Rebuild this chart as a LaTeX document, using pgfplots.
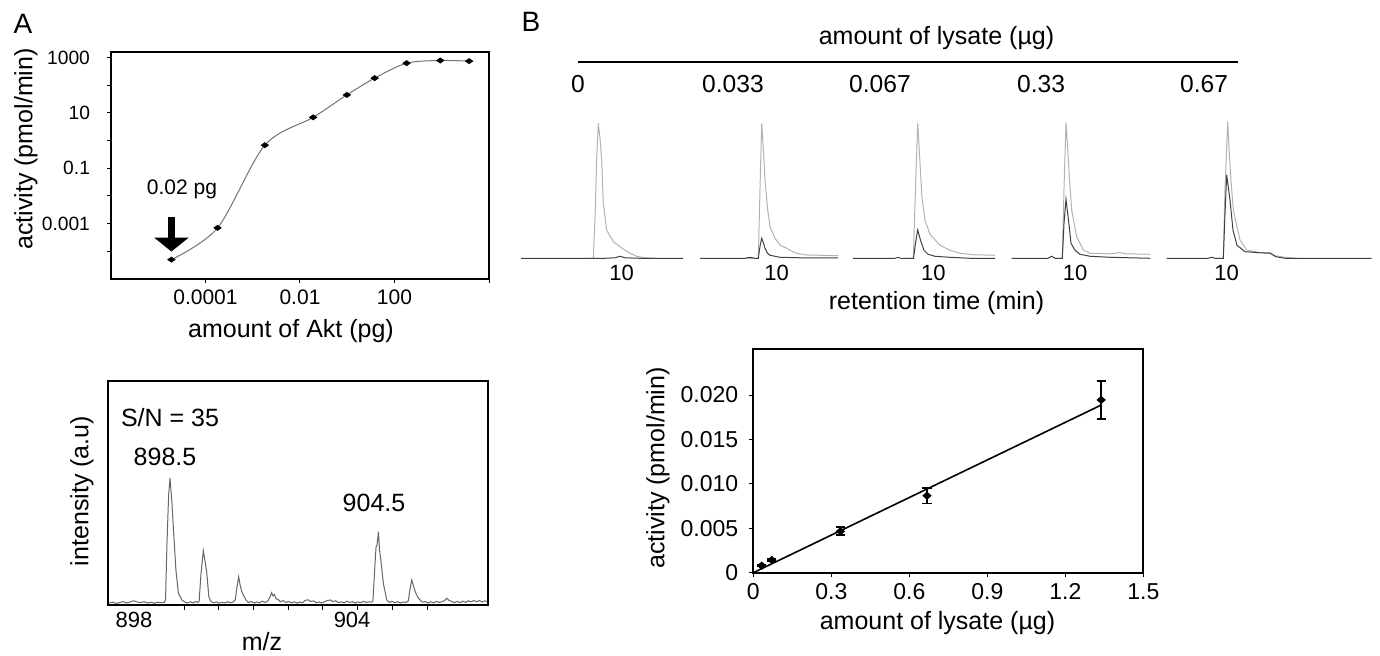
\documentclass[border=0pt]{standalone}
\usepackage{fontspec}
\setmainfont{Liberation Sans}
\usepackage{pgfplots}
\pgfplotsset{compat=1.18}
\usetikzlibrary{arrows.meta}

\newcommand\lab{\fontsize{12.5}{14}\selectfont}
\newcommand\tck{\fontsize{11}{13}\selectfont}
\colorlet{lightg}{black!30}
\colorlet{darkg}{black!75}

\pgfplotsset{
  panel/.style={
    scale only axis, axis line style={line width=1pt},
    tick align=outside, xtick pos=bottom, ytick pos=left,
    major tick length=2pt, minor tick length=0pt,
    tick style={black, line width=0.5pt},
    ticklabel style={font=\tck},
    scaled ticks=false,
  },
}

\begin{document}
\begin{tikzpicture}[x=0.5pt, y=0.5pt]
\useasboundingbox (0,0) rectangle (1380,656);

% ---------------- A: activity vs amount of Akt
\begin{axis}[panel, at={(55.5pt,188.5pt)}, anchor=south west,
  width=189pt, height=113.5pt,
  xmode=log, ymode=log,
  xmin=1e-6, xmax=1e2, ymin=1e-5, ymax=1584.9,
  xtick={1e-4,1e-2,1,1e2}, xticklabels={0.0001,0.01,100,{}},
  ytick={1e-4,1e-3,1e-2,1e-1,1,1e1,1e2,1e3},
  yticklabels={,0.001,,0.1,,10,,1000},
  xticklabel style={font=\fontsize{10.5}{12}\selectfont},
  yticklabel style={font=\fontsize{9.6}{11}\selectfont, xshift=-5pt},
]
\addplot[smooth, black!55, line width=0.5pt, mark=diamond*, mark size=1.2pt,
  mark options={black, xscale=1.9}]
  coordinates {
    (1.9e-5,5e-5) (1.8e-4,7e-4) (1.8e-3,0.68) (0.019,6.9) (0.098,44.5)
    (0.38,180) (1.8,625) (9.3,780) (38,740) };
\draw[line width=3.7pt, -{Triangle[width=17pt,length=7pt]}]
  (axis cs:1.9e-5,1.74e-3) -- (axis cs:1.9e-5,9.8e-5);
\end{axis}
\node[font=\fontsize{14}{16}\selectfont] at (23,632) {A};
\node[font=\lab, rotate=90] at (26,507) {activity (pmol/min)};
\node[font=\lab] at (291,325) {amount of Akt (pg)};
\node[font=\fontsize{10.5}{12}\selectfont] at (182,467) {0.02 pg};

% ---------------- A: mass spectrum
\begin{axis}[panel, at={(54.15pt,25.5pt)}, anchor=south west,
  width=189.7pt, height=112.15pt,
  xmin=896.72, xmax=907.66, ymin=0, ymax=224.3,
  ytick=\empty,
  xtick={898.91,899.91,...,905.91}, xticklabels={},
  major tick length=2.5pt,
  extra x ticks={897.46,903.75}, extra x tick labels={898,904},
  extra x tick style={major tick length=0pt},
]
\addplot[black!60, line width=0.5pt] coordinates {
 (896.75,2.0) (896.85,2.8) (896.95,1.6) (897.05,2.5) (897.15,3.4) (897.25,2.1)
 (897.35,3.0) (897.45,4.2) (897.55,3.1) (897.65,2.4) (897.75,3.3) (897.85,2.0)
 (897.95,2.8) (898.05,1.7) (898.15,2.9) (898.25,2.2) (898.33,2.6) (898.37,5)
 (898.41,60) (898.46,110) (898.50,126.7) (898.55,105) (898.595,78) (898.67,35)
 (898.74,12) (898.84,5) (898.92,3.0) (899.00,2.0) (899.08,3.2) (899.16,2.1)
 (899.24,3.5) (899.30,2.4) (899.34,4) (899.39,30) (899.46,54.3) (899.51,44)
 (899.56,32) (899.62,8) (899.68,3.5) (899.76,2.2) (899.84,3.1) (899.92,1.8)
 (900.00,2.7) (900.08,2.0) (900.16,3.3) (900.24,2.2) (900.32,3.0) (900.38,5)
 (900.43,18) (900.48,28.3) (900.52,20) (900.57,13) (900.63,9) (900.69,5)
 (900.76,2.5) (900.84,3.5) (900.92,2.0) (901.00,3.0) (901.08,2.2) (901.16,3.8)
 (901.24,2.5) (901.32,4.0) (901.38,8) (901.43,12.3) (901.47,9) (901.51,10.5)
 (901.56,6) (901.62,5.5) (901.68,3.2) (901.76,4.4) (901.84,2.5) (901.92,3.6)
 (902.00,2.1) (902.08,3.2) (902.16,1.9) (902.24,3.0) (902.32,2.3) (902.40,4.6)
 (902.48,5.2) (902.56,3.5) (902.64,4.1) (902.72,2.2) (902.80,3.0) (902.88,2.0)
 (902.96,3.3) (903.04,4.5) (903.12,5.0) (903.20,3.4) (903.28,4.2) (903.36,2.4)
 (903.44,3.1) (903.52,2.2) (903.60,3.8) (903.68,2.5) (903.76,3.4) (903.84,2.0)
 (903.92,3.1) (904.00,2.3) (904.08,3.6) (904.16,2.6) (904.24,3.2) (904.31,2.8)
 (904.35,4) (904.40,35) (904.44,58) (904.47,60) (904.51,73.3) (904.54,55)
 (904.58,45) (904.65,21.7) (904.75,5) (904.82,2.5) (904.90,3.6) (904.98,2.3)
 (905.06,3.4) (905.14,2.0) (905.22,3.0) (905.30,2.6) (905.37,4) (905.42,16)
 (905.47,25) (905.52,19) (905.57,13.3) (905.64,8) (905.71,5) (905.78,2.8)
 (905.86,3.4) (905.94,2.0) (906.02,3.2) (906.10,2.2) (906.18,3.6) (906.26,2.6)
 (906.34,3.3) (906.42,4.6) (906.48,6.7) (906.54,4.8) (906.62,3.5) (906.70,2.4)
 (906.78,3.6) (906.86,2.3) (906.94,3.8) (907.02,2.6) (907.10,4.2) (907.18,3.1)
 (907.26,4.5) (907.34,3.2) (907.42,4.4) (907.50,3.0) (907.58,4.1) (907.65,3.5)
};
\end{axis}
\node[font=\lab] at (170,238) {S/N = 35};
\node[font=\lab] at (165,199) {898.5};
\node[font=\lab] at (374,153) {904.5};
\node[font=\lab, rotate=90] at (82,165) {intensity (a.u)};
\node[font=\lab, anchor=south, inner sep=0pt] at (262,5) {m/z};

% ---------------- B: chromatograms
\node[font=\fontsize{14}{16}\selectfont] at (531,634) {B};
\node[font=\lab] at (936.5,618) {amount of lysate (µg)};
\draw[line width=1pt] (578,593.7) -- (1237.7,593.7);
\foreach \xx/\tt in {578/0, 733/0.033, 880/0.067, 1041/0.33, 1204/0.67}
  \node[font=\fontsize{12.3}{14}\selectfont] at (\xx,572) {\tt};

\begin{axis}[scale only axis, at={(260pt,198.85pt)}, anchor=south west,
  width=430pt, height=75pt,
  xmin=520, xmax=1380, ymin=0, ymax=150,
  axis line style={draw=none}, tick style={draw=none},
  ytick=\empty,
  xtick={621.7,776.7,933.3,1075,1226.7}, xticklabels={10,10,10,10,10},
  xticklabel style={font=\fontsize{11}{13}\selectfont},
  clip=false,
]
% light trace
\addplot[lightg, line width=0.5pt] coordinates {
 (585,0) (593.3,0) (595,40) (596.7,100) (598.3,135) (600,120) (601.7,98)
 (603.3,55) (606.7,28) (613.3,16.6) (620,11.6) (625,8) (630,5) (636.7,2)
 (645,0.5) (655,0) };
\addplot[lightg, line width=0.5pt] coordinates {
 (745,0) (758.3,0) (760,70) (761.7,135) (763.3,110) (765,78) (767.5,50)
 (770,31.6) (775,20) (780,13.3) (786.7,10) (790,8) (796.7,5) (806.7,3.3)
 (820,3) (838,2.6) };
\addplot[lightg, line width=0.5pt] coordinates {
 (905,0) (913.3,0) (915.5,70) (917.7,135) (920,95) (922,60) (925,38)
 (930,24) (940,13) (950,8) (960,5) (975,3.5) (995,3) };
\addplot[lightg, line width=0.5pt] coordinates {
 (1055,0) (1062.3,0) (1064,70) (1066,135.6) (1067.7,110) (1069.3,81.6)
 (1071.7,48) (1076.7,21.6) (1083.3,8.3) (1090,5) (1110,4.5) (1120,5.6)
 (1125,4.5) (1150,4) };
\addplot[lightg, line width=0.5pt] coordinates {
 (1215,0) (1223.3,0) (1225,70) (1227.7,136.6) (1229,110) (1230.7,81.6)
 (1233.3,48) (1240,18.3) (1246.7,8.3) (1260,5.6) (1270,5.6) (1275,2.6)
 (1285,1) (1296.7,0) };
% dark trace
\addplot[darkg, line width=0.5pt] coordinates {
 (521,0) (560,0) (590,0) (605,0) (615,0.5) (620,2) (625,0.5) (640,0)
 (660,0) (683,0) };
\addplot[darkg, line width=0.5pt] coordinates {
 (700,0) (745,0) (750,1) (755,0) (758.3,0) (760,12) (761.7,20) (763.5,15)
 (765,10) (767.5,5) (770,3) (780,1) (800,0.5) (838,0.5) };
\addplot[darkg, line width=0.5pt] coordinates {
 (853,0) (895,0) (898,1) (901,0) (913.5,0) (915.5,15) (917.7,28.3)
 (920.5,18) (924,8) (928,4) (935,2) (950,1) (970,0) (995,0) };
\addplot[darkg, line width=0.5pt] coordinates {
 (1011.7,0) (1048,0) (1051.7,2) (1055,0) (1062.3,0) (1064,35) (1066,59)
 (1068.5,38) (1071,15) (1075,8) (1080,4) (1090,2) (1110,1) (1130,0.5)
 (1150,0) };
\addplot[darkg, line width=0.5pt] coordinates {
 (1166.7,0) (1208,0) (1211.7,1) (1215,0) (1223.3,0) (1225,45) (1226.7,83.3)
 (1230,58) (1233,28) (1237,13) (1245,6.6) (1260,5.5) (1270,5) (1276,1.5)
 (1285,0) (1300,0) (1371.7,0) };
\end{axis}
\node[font=\lab] at (936.5,353) {retention time (min)};

% ---------------- B: activity vs amount of lysate
\begin{axis}[panel, at={(376.65pt,41.65pt)}, anchor=south west,
  width=195pt, height=111.7pt,
  xmin=0, xmax=1.5, ymin=0, ymax=0.02515,
  xtick={0,0.3,0.6,0.9,1.2,1.5}, xticklabels={0,0.3,0.6,0.9,1.2,1.5},
  ytick={0,0.005,0.01,0.015,0.02},
  yticklabels={0,0.005,0.010,0.015,0.020},
  ticklabel style={font=\fontsize{11.5}{13}\selectfont},
  yticklabel style={xshift=-2pt},
]
\addplot[black, line width=0.8pt] coordinates {(0,0) (1.34,0.0189)};
\addplot[only marks, mark=diamond*, mark size=1.8pt, mark options={black, xscale=1.5},
  error bars/.cd, y dir=both, y explicit,
  error mark options={rotate=90, mark size=2.3pt, line width=0.8pt},
  error bar style={line width=0.8pt}]
  coordinates {
    (0.032,0.00079) +- (0,0.0001)
    (0.071,0.00143) +- (0,0.00012)
    (0.335,0.00466) +- (0,0.00045)
    (0.668,0.00867) +- (0,0.00088)
    (1.338,0.01945) +- (0,0.00215) };
\end{axis}
\node[font=\lab, rotate=90] at (658,188) {activity (pmol/min)};
\node[font=\lab] at (937.5,33.3) {amount of lysate (µg)};
\end{tikzpicture}
\end{document}
